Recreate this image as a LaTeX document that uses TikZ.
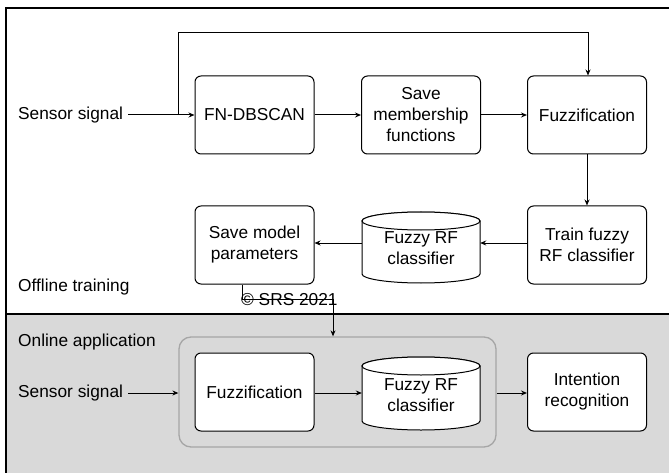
\documentclass[tikz,border=0pt]{standalone}
\usepackage{fontspec}
\setmainfont{Liberation Sans}
\usetikzlibrary{arrows.meta,calc}
\definecolor{bggray}{HTML}{D9D9D9}
\definecolor{grpgray}{HTML}{A6A6A6}
\tikzset{
  box/.style={draw=black, line width=1pt, rounded corners=6pt, fill=white,
    minimum width=119pt, minimum height=78pt, align=center, inner sep=2pt,
    font=\fontsize{17.3pt}{21pt}\selectfont},
  cylbody/.style={minimum width=118pt, minimum height=72pt, align=center, inner sep=0pt,
    font=\fontsize{17.3pt}{21pt}\selectfont},
  lbl/.style={anchor=west, inner sep=0pt, font=\fontsize{17.3pt}{21pt}\selectfont},
  arr/.style={draw=black, line width=1pt, -{Stealth[length=6pt,width=5pt]}},
  ln/.style={draw=black, line width=1pt}
}
\newcommand{\cyldraw}[3]{% center x, top-ellipse center y, bottom-ellipse center y
  \draw[line width=1pt, fill=white] (#1-59,#2) -- (#1-59,#3) arc[start angle=180,end angle=0,x radius=59,y radius=9] -- (#1+59,#2) arc[start angle=0,end angle=-180,x radius=59,y radius=9] -- cycle;
  \draw[line width=1pt, fill=white] (#1,#2) ellipse[x radius=59,y radius=9];
}
\begin{document}
\begin{tikzpicture}[x=1pt,y=-1pt]
\useasboundingbox (0,0) rectangle (669,473);
\clip (0,0) rectangle (669,473);
% panels
\fill[bggray] (6,314) rectangle (680,480);
\draw[line width=1.3pt] (6,8) rectangle (680,480);
\draw[line width=1.3pt] (6,314) -- (680,314);
% group
\node[draw=grpgray, line width=1.3pt, rounded corners=12pt, minimum width=317pt, minimum height=110pt, inner sep=0pt] (grp) at (337.5,392) {};
% offline boxes
\node[box] (fn) at (254.5,115) {FN-DBSCAN};
\node[box] (save) at (421,115) {Save\\membership\\functions};
\node[box] (fuzz) at (587,115) {Fuzzification};
\node[box] (train) at (587,245) {Train fuzzy\\RF classifier};
\node[box] (model) at (254.5,245) {Save model\\parameters};
\cyldraw{421}{221}{274}
\node[cylbody] (cyl1) at (421,248) {Fuzzy RF\\classifier};
% online boxes
\node[box] (fuzz2) at (254.5,392) {Fuzzification};
\node[box] (intent) at (587,392) {Intention\\recognition};
\cyldraw{421}{366}{421}
\node[cylbody] (cyl2) at (421,395) {Fuzzy RF\\classifier};
% labels
\node[lbl] (s1) at (18,115) {Sensor signal};
\node[lbl] (s2) at (18,393) {Sensor signal};
\node[lbl] (off) at (18,287) {Offline training};
\node[lbl] (on) at (18,342) {Online application};
\node[lbl] (copy) at (241,300) {\textcopyright\ SRS 2021};
% coordinates
\coordinate (a1) at (128,115);
\coordinate (br) at (178,115);
\coordinate (a2) at (128,393);
\coordinate (cp) at (333,337);
% connectors
\draw[arr] (a1) -- (fn.west);
\draw[arr] (br) |- (588,33) -- (fuzz.north -| 588,0);
\draw[arr] (fn.east) -- (save.west);
\draw[arr] (save.east) -- (fuzz.west);
\draw[arr] (fuzz.south) -- (train.north);
\draw[arr] (train.west |- 0,243) -- (cyl1.east |- 0,243);
\draw[arr] (cyl1.west |- 0,243) -- (model.east |- 0,243);
\draw[arr] ([xshift=-12.5pt]model.south) |- ($(cp)+(0,-38)$) -- (grp.north -| cp);
\draw[arr] (a2) -- (grp.west |- a2);
\draw[arr] (fuzz2.east |- 0,393) -- (cyl2.west |- 0,393);
\draw[arr] (grp.east |- 0,393) -- (intent.west |- 0,393);
\end{tikzpicture}
\end{document}
